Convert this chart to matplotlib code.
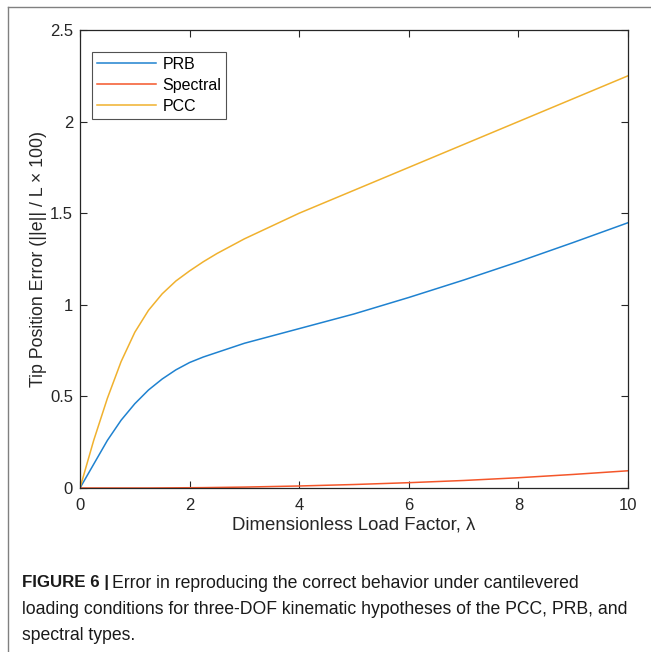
"""Tip position error vs. dimensionless load factor (Figure 6 recreation)."""

import matplotlib
matplotlib.use("Agg")
import matplotlib.pyplot as plt
from matplotlib.lines import Line2D

# ---------------------------------------------------------------------------
# Data
# ---------------------------------------------------------------------------
lam = [0, 0.25, 0.5, 0.75, 1.0, 1.25, 1.5, 1.75, 2.0, 2.25, 2.5, 2.75, 3.0,
       3.5, 4.0, 5.0, 6.0, 7.0, 8.0, 9.0, 10.0]
err_prb = [0, 0.13, 0.26, 0.37, 0.46, 0.535, 0.595, 0.645, 0.685, 0.715,
           0.74, 0.765, 0.79, 0.83, 0.87, 0.95, 1.04, 1.135, 1.235, 1.34,
           1.448]
err_spectral = [0, 0, 0, 0, 0, 0, 0.0005, 0.001, 0.0015, 0.002, 0.003, 0.004,
                0.005, 0.008, 0.011, 0.019, 0.029, 0.041, 0.056, 0.074, 0.094]
err_pcc = [0, 0.26, 0.49, 0.69, 0.85, 0.97, 1.06, 1.13, 1.185, 1.235, 1.28,
           1.32, 1.36, 1.43, 1.50, 1.625, 1.75, 1.875, 2.0, 2.125, 2.25]

series_names = ["PRB", "Spectral", "PCC"]
x_ticks = [0, 2, 4, 6, 8, 10]
y_ticks = [0, 0.5, 1, 1.5, 2, 2.5]
y_tick_labels = ["0", "0.5", "1", "1.5", "2", "2.5"]

COLORS = {
    "PRB": "#1f82d0",
    "Spectral": "#f4562a",
    "PCC": "#f0b12e",
}

W, H = 651, 652
fig = plt.figure(figsize=(W / 100, H / 100), dpi=100)
plt.rcParams["font.family"] = ["Liberation Sans", "DejaVu Sans"]

ax = fig.add_axes([80 / W, 1 - 488 / H, 548 / W, 458 / H])
for name, ys in zip(series_names, [err_prb, err_spectral, err_pcc]):
    ax.plot(lam, ys, color=COLORS[name], lw=1.1, label=name,
            solid_joinstyle="round")

ax.set_xlim(0, 10)
ax.set_ylim(0, 2.5)
ax.set_xticks(x_ticks)
ax.set_xticklabels([str(t) for t in x_ticks])
ax.set_yticks(y_ticks)
ax.set_yticklabels(y_tick_labels)
ax.tick_params(direction="in", length=5, width=0.8, top=True, right=True,
               labelsize=12, colors="#262626")
ax.tick_params(axis="x", pad=7)
ax.tick_params(axis="y", pad=5)
for s in ax.spines.values():
    s.set_linewidth(0.9)
    s.set_color("#262626")

ax.set_xlabel("Dimensionless Load Factor, λ", fontsize=13.4, color="#262626",
              labelpad=3)
ax.set_ylabel("Tip Position Error (||e|| / L × 100)", fontsize=12.8,
              color="#262626", labelpad=2)

leg = ax.legend(loc="upper left", bbox_to_anchor=(0.022, 0.952),
                frameon=True, fancybox=False, fontsize=11.5,
                handlelength=3.7, handletextpad=0.4, borderpad=0.3,
                labelspacing=0.38, borderaxespad=0)
leg.get_frame().set_edgecolor("#262626")
leg.get_frame().set_linewidth(0.8)

# Page border (left and top rules)
fig.add_artist(Line2D([8 / W, 8 / W], [0, 1 - 7 / H], color="#808080",
                      lw=1.0, transform=fig.transFigure))
fig.add_artist(Line2D([8 / W, 1], [1 - 7 / H, 1 - 7 / H], color="#808080",
                      lw=1.0, transform=fig.transFigure))

# Caption
cap_size = 12.7
bold = fig.text(22 / W, 1 - 583 / H, "FIGURE 6 |", fontsize=cap_size - 0.5,
                fontweight="bold", va="center", ha="left", color="#1a1a1a")
renderer = fig.canvas.get_renderer()
bb = bold.get_window_extent(renderer)
fig.text((bb.x1 + 3) / W, 1 - 583 / H,
         "Error in reproducing the correct behavior under cantilevered",
         fontsize=cap_size, va="center", ha="left", color="#1a1a1a")
fig.text(22 / W, 1 - 609 / H,
         "loading conditions for three-DOF kinematic hypotheses of the PCC, PRB, and",
         fontsize=cap_size, va="center", ha="left", color="#1a1a1a")
fig.text(22 / W, 1 - 635 / H, "spectral types.", fontsize=cap_size,
         va="center", ha="left", color="#1a1a1a")

fig.savefig("out.png", dpi=100)
